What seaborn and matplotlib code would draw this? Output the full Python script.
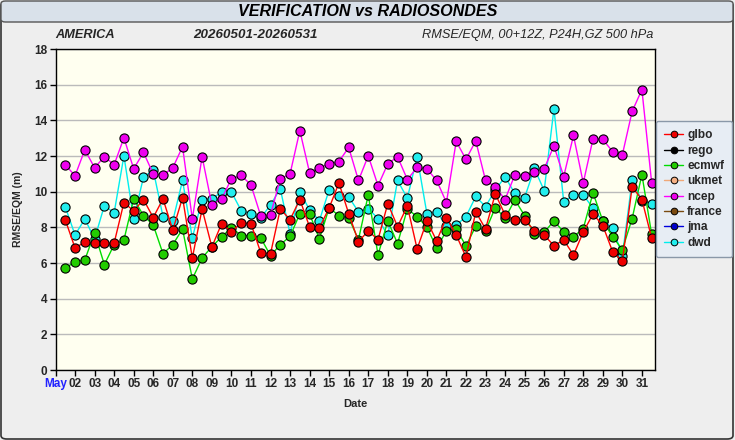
import numpy as np
import pandas as pd
import matplotlib
matplotlib.use("Agg")
import matplotlib.pyplot as plt
import seaborn as sns
from matplotlib.patches import FancyBboxPatch
from matplotlib.lines import Line2D

# ---------------- data ----------------
day_ticks = list(range(1, 32))
day_labels = ["May"] + [f"{d:02d}" for d in range(2, 32)]
# verification times: May 1 12Z ... May 31 12Z, every 12 h (in days)
times = [1.5 + 0.5 * i for i in range(61)]

glbo = [8.42, 6.84, 7.18, 7.12, 7.10, 7.12, 9.39, 8.92, 9.56, 8.55,
        9.60, 7.84, 9.67, 6.28, 9.03, 6.90, 8.21, 7.76, 8.25, 8.21,
        6.58, 6.52, 9.03, 8.43, 9.56, 8.02, 7.97, 9.09, 10.49, 8.77,
        7.20, 7.80, 7.31, 9.33, 8.04, 9.20, 6.79, 8.36, 7.24, 8.55,
        7.57, 6.34, 8.87, 7.91, 9.88, 8.70, 8.42, 8.42, 7.82, 7.57,
        6.97, 7.29, 6.45, 7.74, 8.75, 8.10, 6.64, 6.11, 10.27, 9.56,
        7.39]
ecmwf = [5.72, 6.06, 6.17, 7.69, 5.91, 7.03, 7.29, 9.60, 8.66, 8.13,
         6.52, 7.03, 7.91, 5.10, 6.28, 6.92, 7.46, 7.99, 7.54, 7.54,
         7.41, 6.41, 7.03, 7.49, 8.77, 8.75, 7.35, 9.09, 8.66, 8.53,
         7.31, 9.82, 6.45, 8.36, 7.09, 9.03, 8.60, 8.02, 6.84, 7.80,
         7.91, 6.96, 8.06, 7.80, 9.11, 8.51, 9.54, 8.66, 7.63, 7.72,
         8.36, 7.74, 7.48, 7.93, 9.93, 8.36, 7.48, 6.75, 8.49, 10.96,
         7.60]
ncep = [11.51, 10.89, 12.35, 11.34, 11.96, 11.51, 13.02, 11.28, 12.20, 11.00,
        10.93, 11.34, 12.52, 8.47, 11.96, 9.26, 9.60, 10.72, 10.91, 10.38,
        8.64, 8.70, 10.72, 11.00, 13.42, 11.06, 11.34, 11.56, 11.69, 12.48,
        10.63, 12.01, 10.34, 11.56, 11.96, 10.68, 11.36, 11.28, 10.63, 9.39,
        12.82, 11.81, 12.85, 10.63, 10.27, 9.56, 10.94, 10.89, 11.13, 11.28,
        12.57, 10.85, 13.15, 10.49, 12.97, 12.93, 12.25, 12.07, 14.50, 15.72,
        10.49]
dwd = [9.15, 7.57, 8.47, 7.35, 9.22, 8.81, 12.01, 8.47, 10.81, 11.21,
       8.60, 8.36, 10.63, 7.40, 9.56, 9.60, 9.98, 9.98, 8.94, 8.77,
       8.52, 9.26, 10.16, 7.64, 9.98, 8.98, 8.37, 10.11, 9.77, 9.70,
       8.87, 9.05, 8.49, 7.55, 10.63, 9.63, 11.96, 8.77, 8.88, 8.06,
       8.13, 8.60, 9.73, 9.16, 10.10, 10.83, 9.90, 9.67, 11.30, 10.06,
       14.65, 9.43, 9.82, 9.82, 9.07, 8.34, 7.99, 6.41, 10.63, 9.50,
       9.31]
rego = []
ukmet = []
france = []
jma = []

models = ["glbo", "rego", "ecmwf", "ukmet", "ncep", "france", "jma", "dwd"]
values = {"glbo": glbo, "rego": rego, "ecmwf": ecmwf, "ukmet": ukmet,
          "ncep": ncep, "france": france, "jma": jma, "dwd": dwd}
line_colors = {"glbo": "#ff0000", "rego": "#000000", "ecmwf": "#00dd00",
               "ukmet": "#f0a878", "ncep": "#ff00ff", "france": "#7a4a10",
               "jma": "#0000dd", "dwd": "#00eeee"}
face_colors = {"glbo": "#ee0000", "rego": "#000000", "ecmwf": "#22cc00",
               "ukmet": "#f5b084", "ncep": "#ee00ee", "france": "#7a4a10",
               "jma": "#0000cc", "dwd": "#22eeee"}

rows = []
for m in models:
    for t, v in zip(times, values[m]):
        rows.append({"time": t, "value": v, "model": m})
df = pd.DataFrame(rows)

# ---------------- figure ----------------
sns.set_theme(style="white")
plt.rcParams["font.family"] = ["Liberation Sans", "DejaVu Sans"]

W, H = 735, 440
fig = plt.figure(figsize=(W / 100, H / 100), dpi=100)
fig.patch.set_facecolor("#eeeeee")

# outer border
fig.patches.append(FancyBboxPatch((1 / W, 1 / H), 1 - 3 / W, 1 - 3 / H,
                                  boxstyle="round,pad=0,rounding_size=0.008",
                                  transform=fig.transFigure, facecolor="none",
                                  edgecolor="#333333", linewidth=1.2, zorder=0))
# title bar
fig.patches.append(FancyBboxPatch((1 / W, 1 - 22 / H), 1 - 3 / W, 21 / H,
                                  boxstyle="round,pad=0,rounding_size=0.006",
                                  transform=fig.transFigure, facecolor="#d9e1ea",
                                  edgecolor="#555555", linewidth=1.0, zorder=1))
fig.text(0.5, 1 - 11.5 / H, "VERIFICATION vs RADIOSONDES", ha="center", va="center",
         fontsize=11.6, fontweight="bold", fontstyle="italic", color="#000000", zorder=2)

ax = fig.add_axes([55.5 / W, 1 - 370 / H, (655 - 55.5) / W, (370 - 49) / H])
ax.set_facecolor("#fffff0")

draw_order = ["dwd", "jma", "france", "ncep", "ukmet", "ecmwf", "rego", "glbo"]
present = [m for m in draw_order if len(values[m]) > 0]
for m in present:
    sub = df[df["model"] == m]
    sns.lineplot(data=sub, x="time", y="value", ax=ax, color=line_colors[m],
                 linewidth=1.0, marker="o", markersize=6.6,
                 markerfacecolor=face_colors[m], markeredgecolor="#000000",
                 markeredgewidth=0.8, estimator=None, sort=False, legend=False,
                 clip_on=True)

ax.set_xlim(1.0, 31.67)
ax.set_ylim(0, 18)
ax.set_yticks(range(0, 19, 2))
ax.set_xticks(day_ticks)
ax.set_xticklabels(day_labels)
ax.yaxis.grid(True, color="#bbbbbb", linewidth=1.0)
ax.xaxis.grid(False)
ax.set_axisbelow(True)
for s in ax.spines.values():
    s.set_color("#000000")
    s.set_linewidth(1.0)

tick_font = {"family": ["Liberation Sans Narrow", "Liberation Sans", "DejaVu Sans"],
             "weight": "bold", "size": 8.5}
for lab in ax.get_xticklabels() + ax.get_yticklabels():
    lab.set_fontproperties(matplotlib.font_manager.FontProperties(**tick_font))
ax.get_xticklabels()[0].set_color("#2222ff")
ax.tick_params(axis="both", which="major", direction="out", length=4, width=1,
               color="#000000", pad=2, left=True, bottom=True)

ax.set_xlabel("Date", fontsize=8, fontweight="bold", labelpad=6)
ax.set_ylabel("RMSE/EQM (m)", fontsize=7.5, fontweight="bold", labelpad=8)

# header texts
fig.text(55 / W, 1 - 35 / H, "AMERICA", ha="left", va="center", fontsize=9.2,
         fontweight="bold", fontstyle="italic")
fig.text(255 / W, 1 - 35 / H, "20260501-20260531", ha="center", va="center",
         fontsize=9.6, fontweight="bold", fontstyle="italic")
fig.text(653 / W, 1 - 35 / H, "RMSE/EQM, 00+12Z, P24H,GZ 500 hPa", ha="right",
         va="center", fontsize=9.2, fontstyle="italic")

# legend
handles = [Line2D([0], [0], color=line_colors[m], linewidth=1.0, marker="o",
                  markersize=4.8, markerfacecolor=face_colors[m],
                  markeredgecolor="#000000", markeredgewidth=0.7, label=m)
           for m in models]
leg = fig.legend(handles=handles, loc="upper left",
                 bbox_to_anchor=(656 / W, 1 - 121 / H), frameon=True,
                 fancybox=True, framealpha=1.0, facecolor="#e7edf4",
                 edgecolor="#8a98a8", handlelength=1.6, handletextpad=0.3,
                 labelspacing=0.28, borderpad=0.7, borderaxespad=0.0,
                 prop={"family": ["Liberation Sans", "DejaVu Sans"],
                       "weight": "bold", "size": 8.6})
leg.get_frame().set_linewidth(1.0)

fig.savefig("out.png", dpi=100, facecolor=fig.get_facecolor())
